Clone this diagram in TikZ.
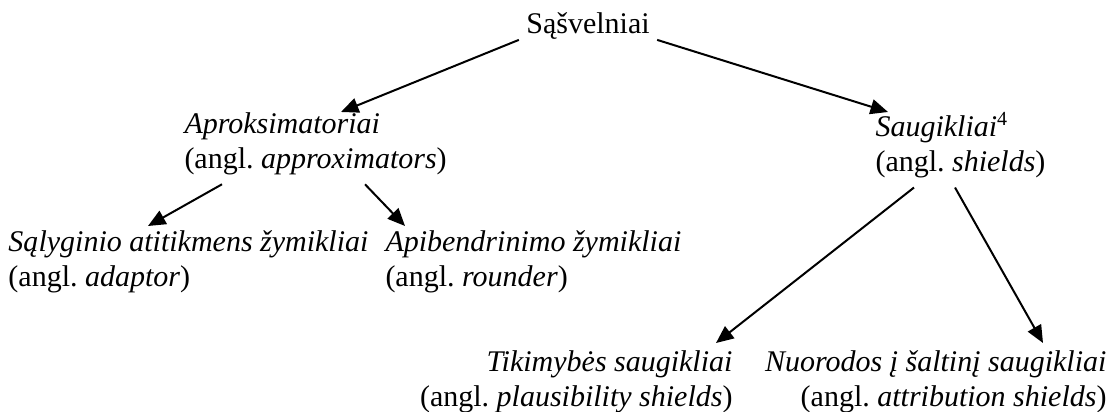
\documentclass[tikz,border=0pt]{standalone}
\usepackage{fontspec}
\setmainfont{Liberation Serif}
\usepackage{tikz}
\usetikzlibrary{calc, arrows.meta}

\begin{document}
\begin{tikzpicture}[x=0.4pt, y=-0.4pt,
        every node/.style={inner sep=0pt, font=\fontsize{12}{14}\selectfont},
        leftbox/.style={align=left, anchor=north west},
        rightbox/.style={align=right, anchor=north east},
        arr/.style={draw, line width=0.8pt, arrows={-{Triangle[length=7pt, width=6pt]}}}]
        \useasboundingbox (0, 0) rectangle (1112, 412);
        \node (root) at (588, 26) {Sąšvelniai};
        \node [leftbox] (apx) at (184, 112) {\textit{Aproksimatoriai}\\(angl.\ \textit{approximators})};
        \node [leftbox] (sau) at (875, 112) {\textit{Saugikliai}\textsuperscript{4}\\(angl.\ \textit{shields})};
        \node [leftbox] (adaptor) at (8, 230) {\textit{Sąlyginio atitikmens žymikliai}\\(angl.\ \textit{adaptor})};
        \node [leftbox] (rounder) at (385, 230) {\textit{Apibendrinimo žymikliai}\\(angl.\ \textit{rounder})};
        \node [rightbox] (plaus) at (733, 350) {\textit{Tikimybės saugikliai}\\(angl.\ \textit{plausibility shields})};
        \node [rightbox] (attr) at (1107, 350) {\textit{Nuorodos į šaltinį saugikliai}\\(angl.\ \textit{attribution shields})};
        % first level
        \path [arr] ([shift={(-7, 0)}]root.south west) -- ([shift={(157, 0)}]apx.north west);
        \path [arr] ([shift={(7, 0)}]root.south east) -- ([shift={(13, 0)}]sau.north west);
        % second level
        \draw [arr] ([shift={(38, 9)}]apx.south west) -- ([shift={(140, -4)}]adaptor.north west);
        \draw [arr] ([shift={(181, 9)}]apx.south west) -- ([shift={(20, -4)}]rounder.north west);
        \draw [arr] ([shift={(39, 9)}]sau.south west) -- ([shift={(-17, -7)}]plaus.north east);
        \draw [arr] ([shift={(80, 9)}]sau.south west) -- ([shift={(-64, -7)}]attr.north east);
    \end{tikzpicture}
\end{document}
